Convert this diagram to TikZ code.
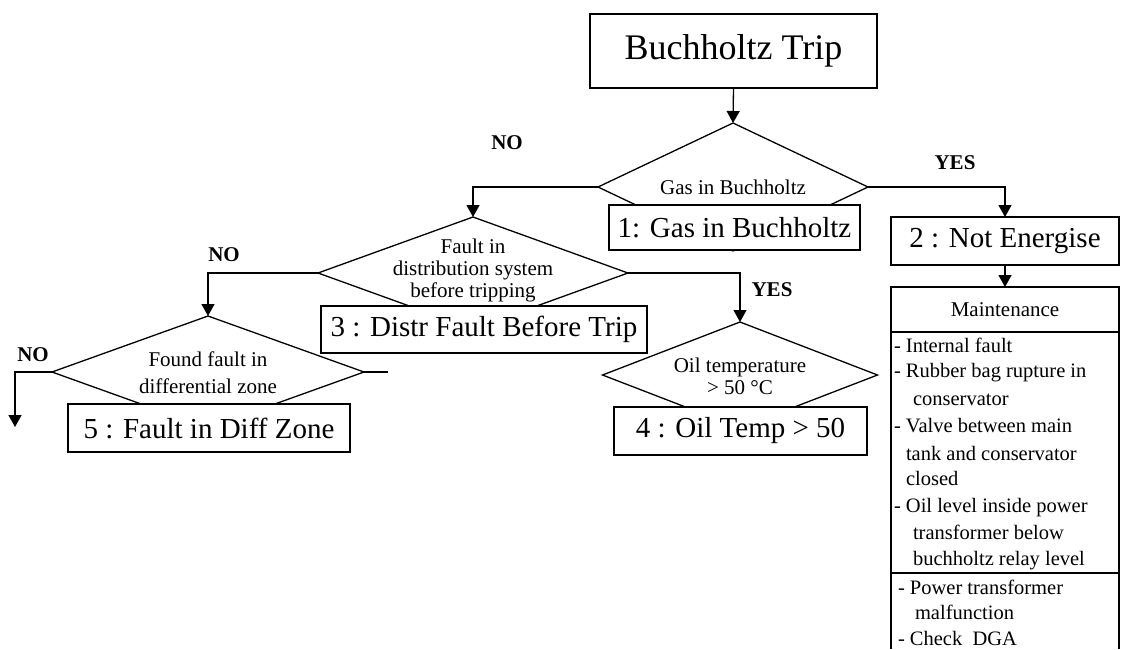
\documentclass[tikz,border=0pt]{standalone}
\usepackage{fontspec}
\setmainfont{Liberation Serif}
\usetikzlibrary{shapes.geometric,arrows.meta}
\begin{document}
\begin{tikzpicture}[x=1pt,y=-1pt,
  line width=1.3pt,
  every node/.style={inner sep=0pt, outer sep=0pt},
  dia/.style={draw, diamond, fill=white},
  boxn/.style={draw, rectangle, fill=white, font=\fontsize{29}{30}\selectfont},
  dtext/.style={font=\fontsize{21}{22}\selectfont, align=center},
  lab/.style={font=\bfseries\fontsize{21}{22}\selectfont},
  mt/.style={font=\fontsize{20.5}{22}\selectfont, anchor=base west},
  arr/.style={-{Triangle[width=13pt,length=12pt]}}
]
\useasboundingbox (0,0) rectangle (1135,649);

% title
\node[draw, rectangle, minimum width=287pt, minimum height=74pt, font=\fontsize{36}{38}\selectfont] (title) at (733.5,51) {Buchholtz Trip};

% diamonds
\node[dia, minimum width=270pt, minimum height=128pt] (d1) at (733,187) {};
\node[dtext] (t1) at (d1.center) {Gas in Buchholtz};

\node[dia, minimum width=310pt, minimum height=112pt] (d3) at (473,273) {};
\node[dtext] (t3) at ([yshift=3pt]d3.center) {Fault in\\distribution system\\before tripping};

\node[dia, minimum width=275pt, minimum height=106pt] (d4) at (740,375) {};
\node[dtext] (t4) at ([yshift=-1pt]d4.center) {Oil temperature\\> 50 °C};

\node[dia, minimum width=312pt, minimum height=112pt] (d5) at (208,372) {};
\node[dtext, font=\fontsize{21}{27}\selectfont] (t5) at ([yshift=-1pt]d5.center) {Found fault in\\differential zone};

% result boxes
\node[boxn, minimum width=251pt, minimum height=45pt] (b1) at (734.5,227.5) {1: Gas in Buchholtz};
\node[boxn, minimum width=228pt, minimum height=48pt] (b2) at (1005,241) {2 : Not Energise};
\node[boxn, minimum width=326pt, minimum height=47pt] (b3) at (484,329.5) {3 : Distr Fault Before Trip};
\node[boxn, minimum width=253pt, minimum height=48pt] (b4) at (740.5,431) {4 : Oil Temp > 50};
\node[boxn, minimum width=282pt, minimum height=48pt] (b5) at (209,428) {5 : Fault in Diff Zone};

% maintenance box
\node[draw, rectangle, minimum width=228pt, minimum height=45pt, font=\fontsize{21}{22}\selectfont] (maint) at (1005,309.5) {Maintenance};
\draw (maint.south west) -- (891,649);
\draw (maint.south east) -- (1119,649);
\draw (891,573) -- (1119,573);

\node[mt] (m1) at (894,352) {- Internal fault};
\node[mt] (m2) at (894,377) {- Rubber bag rupture in};
\node[mt] (m3) at (913,405) {conservator};
\node[mt] (m4) at (894,432) {- Valve between main};
\node[mt] (m5) at (906,460) {tank and conservator};
\node[mt] (m6) at (906,485) {closed};
\node[mt] (m7) at (894,512) {- Oil level inside power};
\node[mt] (m8) at (913,539) {transformer below};
\node[mt] (m9) at (913,565) {buchholtz relay level};
\node[mt] (m10) at (898,594) {- Power transformer};
\node[mt] (m11) at (915,619) {malfunction};
\node[mt] (m12) at (898,645) {- Check\ \ DGA};

% connectors
\coordinate (end5) at (15,427);
\coordinate (stub5) at (388,372);
\draw[arr] (title.south) -- (d1.north);
\draw[arr] (d1.west) -| (d3.north);
\draw[arr] (d1.east) -| (b2.north);
\draw[arr] (d3.east) -| (d4.north);
\draw[arr] (d3.west) -| (d5.north);
\draw[arr] (d5.west) -| (end5);
\draw (d5.east) -- (stub5);
\draw[arr] (b2.south) -- (maint.north);

% labels
\node[lab] (no1) at (507,143) {NO};
\node[lab] (yes1) at (955,163) {YES};
\node[lab] (no2) at (224,255) {NO};
\node[lab] (yes2) at (772,290) {YES};
\node[lab] (no3) at (33,355) {NO};
\end{tikzpicture}
\end{document}
